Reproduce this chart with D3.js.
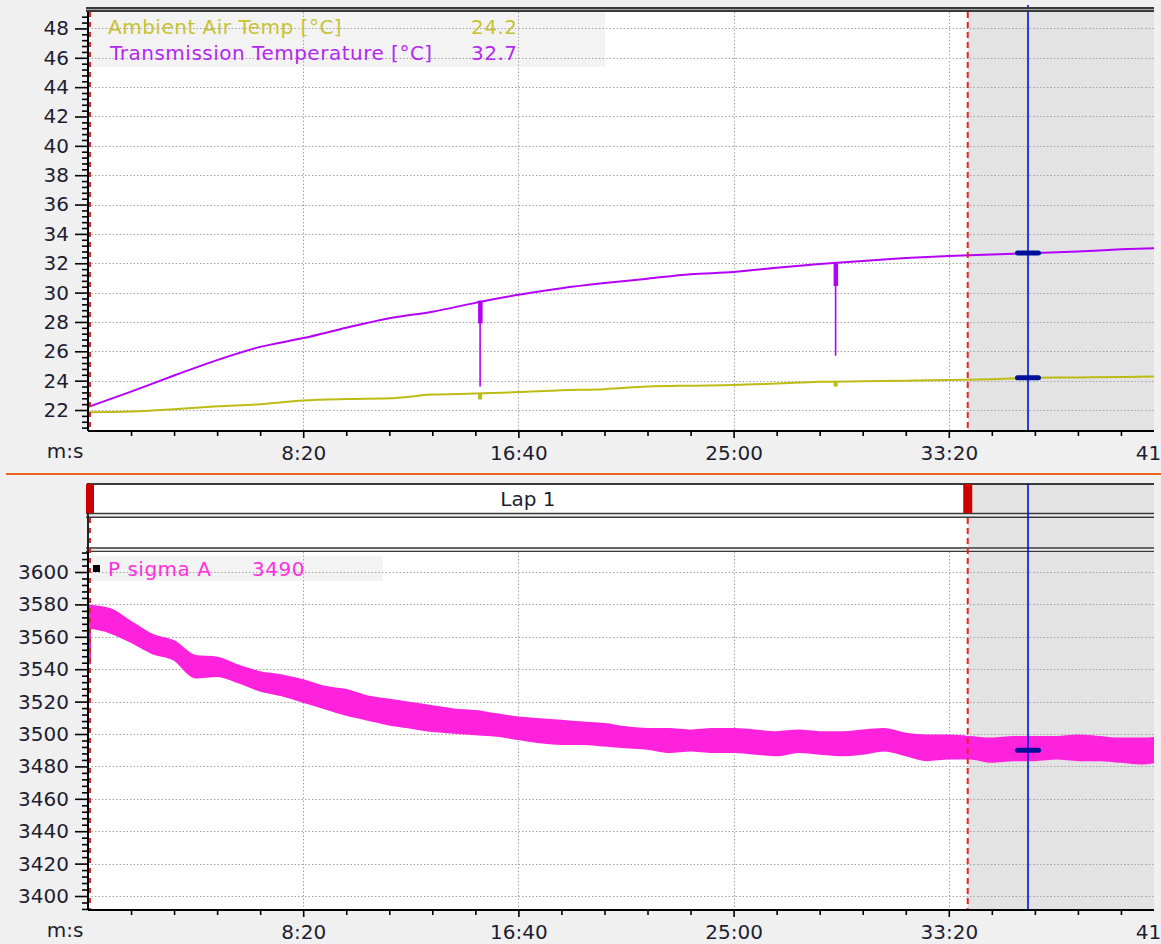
<!DOCTYPE html>
<html><head><meta charset="utf-8">
<script src="https://cdn.jsdelivr.net/npm/d3@7"></script>
<style>
html,body{margin:0;padding:0;background:#f0f0f0;overflow:hidden}
svg{display:block}
text{font-family:"DejaVu Sans",sans-serif}
</style></head><body><svg id="c" width="1161" height="944"></svg>
<script>
// ---------- data ----------
const tempTimes   = [0,100,200,300,400,500,600,700,800,900,1000,1100,1200,1300,1400,1500,1600,1700,1800,1900,2000,2100,2200,2300,2400,2500];
const ambientTemp = [21.85,21.9,22.05,22.25,22.4,22.65,22.75,22.8,23.05,23.12,23.22,23.35,23.42,23.6,23.66,23.7,23.8,23.92,23.96,24.0,24.05,24.1,24.2,24.22,24.25,24.3];
const transTemp   = [22.2,23.25,24.35,25.4,26.3,26.9,27.6,28.25,28.7,29.3,29.85,30.3,30.65,30.95,31.25,31.4,31.7,31.95,32.15,32.35,32.5,32.6,32.7,32.8,32.95,33.05];
const spikeTimes      = [911, 1737];
const transSpikeTop   = [29.45, 32.0];
const transSpikeThick = [27.9, 30.45];
const transSpikeMin   = [23.6, 25.7];
const ambientSpikeTop = [23.12, 23.95];
const ambientSpikeMin = [22.72, 23.6];

const psTimes = [0,50,100,150,200,250,300,350,400,450,500,550,600,650,700,750,800,850,900,950,1000,1050,1100,1150,1200,1250,1300,1350,1400,1450,1500,1550,1600,1650,1700,1750,1800,1850,1900,1950,2000,2050,2100,2150,2200,2250,2300,2350,2400,2450,2500];
const psUpper = [3579,3577,3569,3561,3557,3548,3547,3542,3538,3536,3533,3529,3527,3523,3521,3519,3517,3515,3514,3512,3510,3509,3508,3507,3506,3504,3503,3503,3502,3503,3503,3502,3501,3502,3501,3501,3502,3503,3500,3499,3499,3498,3497,3498,3498,3498,3499,3498,3497,3497,3498];
const psLower = [3566,3563,3557,3550,3546,3535,3536,3532,3527,3524,3520,3516,3512,3509,3506,3504,3502,3501,3500,3499,3497,3495,3494,3494,3493,3492,3491,3489,3490,3489,3489,3488,3487,3489,3488,3487,3488,3490,3487,3484,3485,3485,3483,3484,3484,3485,3484,3484,3483,3482,3484];
const psStartSpan = [3580, 3543];

const xTickSeconds = [500,1000,1500,2000,2500];
const xTickLabels  = ["8:20","16:40","25:00","33:20","41:40"];
const topYTicks    = [22,24,26,28,30,32,34,36,38,40,42,44,46,48];
const bottomYTicks = [3400,3420,3440,3460,3480,3500,3520,3540,3560,3580,3600];
const topLegendNames  = ["Ambient Air Temp [°C]","Transmission Temperature [°C]"];
const topLegendValues = ["24.2","32.7"];
const topCursorValues = [24.2, 32.7];
const bottomLegendName  = "P sigma A";
const bottomLegendValue = "3490";
const bottomCursorValue = 3490;
const lapLabel = "Lap 1";
const lapStart = 0, lapEnd = 2044, cursorTime = 2184;

// ---------- layout ----------
const svg = d3.select("#c");
const PL = 88, PR = 1154;
const TOP = {t:12, b:431};
const LAP = {t:485, b:513};
const BOX2 = {t:518, b:547};
const BOT = {t:552, b:910};
const COL = {amb:"#bcbc14", ambText:"#c8c232", trans:"#b400f8", transText:"#b428f0", ps:"#ff22dd", psText:"#ff30e0",
             grid:"#a4a4a4", axis:"#000", text:"#1e1e30", shade:"#e3e3e3", red:"#e02828", blue:"#0010e0", pill:"#00109a"};

const x = d3.scaleLinear().domain([0,2500]).range([88,1164]);
const yTop = d3.scaleLinear().domain([20.57,49.12]).range([TOP.b, TOP.t]);
const yBot = d3.scaleLinear().domain([3391.36,3612.35]).range([BOT.b, BOT.t]);

const defs = svg.append("defs");
defs.append("clipPath").attr("id","clipTop").append("rect").attr("x",PL).attr("y",TOP.t).attr("width",PR-PL).attr("height",TOP.b-TOP.t);
defs.append("clipPath").attr("id","clipBot").append("rect").attr("x",PL).attr("y",BOT.t).attr("width",PR-PL).attr("height",BOT.b-BOT.t);

// separator
svg.append("line").attr("x1",6).attr("x2",1161).attr("y1",474).attr("y2",474).attr("stroke","#e8641e").attr("stroke-width",2);

function panelBg(t,b,shadeFrom){
  svg.append("rect").attr("x",PL).attr("y",t).attr("width",PR-PL).attr("height",b-t).attr("fill","#fff");
  svg.append("rect").attr("x",shadeFrom).attr("y",t).attr("width",PR-shadeFrom).attr("height",b-t).attr("fill",COL.shade);
}
function doubleLine(y){
  svg.append("rect").attr("x",PL-2).attr("y",y-2.5).attr("width",PR-PL+2).attr("height",5).attr("fill","#3a3a3a");
  svg.append("rect").attr("x",PL-2).attr("y",y-0.5).attr("width",PR-PL+2).attr("height",1).attr("fill","#a8a8a8");
}
function grid(yScale, yTicks, t, b){
  const g = svg.append("g");
  g.selectAll("line.h").data(yTicks).join("line")
    .attr("x1",PL).attr("x2",PR).attr("y1",d=>Math.round(yScale(d))+0.5).attr("y2",d=>Math.round(yScale(d))+0.5)
    .attr("stroke",COL.grid).attr("stroke-dasharray","1.5,2");
  g.selectAll("line.v").data(xTickSeconds.filter(d=>x(d)<PR)).join("line")
    .attr("x1",d=>Math.round(x(d))+0.5).attr("x2",d=>Math.round(x(d))+0.5).attr("y1",t).attr("y2",b)
    .attr("stroke",COL.grid).attr("stroke-dasharray","1.5,2");
}

// ===== TOP PANEL =====
panelBg(TOP.t, TOP.b, x(lapEnd));
svg.append("rect").attr("x",90).attr("y",TOP.t).attr("width",515).attr("height",55).attr("fill","#f3f3f3");
grid(yTop, topYTicks, TOP.t, TOP.b);

const gTop = svg.append("g").attr("clip-path","url(#clipTop)");
const lineT = d3.line().x((d,i)=>x(tempTimes[i])).y(d=>yTop(d)).curve(d3.curveMonotoneX);
gTop.append("path").attr("d",lineT(ambientTemp)).attr("fill","none").attr("stroke",COL.amb).attr("stroke-width",2);
gTop.append("path").attr("d",lineT(transTemp)).attr("fill","none").attr("stroke",COL.trans).attr("stroke-width",2);
spikeTimes.forEach((t,i)=>{
  gTop.append("line").attr("x1",x(t)).attr("x2",x(t)).attr("y1",yTop(transSpikeTop[i])).attr("y2",yTop(transSpikeMin[i]))
    .attr("stroke",COL.trans).attr("stroke-width",1.6);
  gTop.append("rect").attr("x",x(t)-2).attr("y",yTop(transSpikeTop[i])).attr("width",4.5)
    .attr("height",yTop(transSpikeThick[i])-yTop(transSpikeTop[i])).attr("fill",COL.trans);
  gTop.append("rect").attr("x",x(t)-2).attr("y",yTop(ambientSpikeTop[i])).attr("width",4)
    .attr("height",yTop(ambientSpikeMin[i])-yTop(ambientSpikeTop[i])).attr("fill",COL.amb);
});

const legTop = svg.append("g");
topLegendNames.forEach((n,i)=>{
  const yy = 27 + i*26;
  const c = i===0 ? COL.ambText : COL.transText;
  legTop.append("text").attr("x",108 + i*2).attr("y",yy).attr("dy","0.36em").attr("font-size",20)
    .attr("letter-spacing",0.5).attr("fill",c).text(n);
  legTop.append("text").attr("x",471).attr("y",yy).attr("dy","0.36em").attr("font-size",20)
    .attr("letter-spacing",0.5).attr("fill",c).text(topLegendValues[i]);
});

svg.append("line").attr("x1",x(lapEnd)).attr("x2",x(lapEnd)).attr("y1",TOP.t).attr("y2",TOP.b)
  .attr("stroke",COL.red).attr("stroke-width",2).attr("stroke-dasharray","6,4");
svg.append("line").attr("x1",90).attr("x2",90).attr("y1",TOP.t).attr("y2",TOP.b)
  .attr("stroke",COL.red).attr("stroke-width",2).attr("stroke-dasharray","5,5");
svg.append("line").attr("x1",x(cursorTime)).attr("x2",x(cursorTime)).attr("y1",5).attr("y2",TOP.b)
  .attr("stroke",COL.blue).attr("stroke-width",1.6);
topCursorValues.forEach(v=>{
  svg.append("rect").attr("x",x(cursorTime)-13).attr("y",yTop(v)-2.5).attr("width",26).attr("height",5).attr("rx",2.5).attr("fill",COL.pill);
});
doubleLine(9.5);

function yAxis(scale, ticks, minors){
  const g = svg.append("g").attr("transform",`translate(${PL},0)`);
  g.call(d3.axisLeft(scale).tickValues(minors).tickSize(6).tickFormat("")).select(".domain").remove();
  const g2 = svg.append("g").attr("transform",`translate(${PL},0)`);
  g2.call(d3.axisLeft(scale).tickValues(ticks).tickSize(13).tickPadding(6).tickFormat(d3.format("d")));
  g2.select(".domain").remove();
  [g,g2].forEach(gg=>gg.selectAll("line").attr("stroke",COL.axis).attr("stroke-width",1.6));
  g2.selectAll("text").attr("font-size",20).attr("fill",COL.text).attr("font-family","DejaVu Sans");
  const r = scale.range();
  svg.append("line").attr("x1",PL).attr("x2",PL).attr("y1",r[1]).attr("y2",r[0]).attr("stroke",COL.axis).attr("stroke-width",2);
}
function xAxis(yPos){
  const minors = tempTimes.filter(d=>d>0 && !xTickSeconds.includes(d) && x(d)<PR);
  const g = svg.append("g").attr("transform",`translate(0,${yPos})`);
  g.call(d3.axisBottom(x).tickValues(minors).tickSize(5).tickFormat("")).select(".domain").remove();
  const g2 = svg.append("g").attr("transform",`translate(0,${yPos})`);
  g2.call(d3.axisBottom(x).tickValues(xTickSeconds).tickSize(7).tickFormat((d,i)=>xTickLabels[i]));
  g2.select(".domain").remove();
  g2.selectAll(".tick").filter(d=>x(d)>PR).select("line").remove();
  [g,g2].forEach(gg=>gg.selectAll("line").attr("stroke",COL.axis).attr("stroke-width",1.6));
  g2.selectAll("text").attr("y",22).attr("dy","0.36em").attr("font-size",20).attr("fill",COL.text).attr("font-family","DejaVu Sans");
  svg.append("line").attr("x1",PL).attr("x2",PR).attr("y1",yPos).attr("y2",yPos).attr("stroke",COL.axis).attr("stroke-width",2);
  svg.append("text").attr("x",65).attr("y",yPos+20).attr("dy","0.36em").attr("text-anchor","middle")
    .attr("font-size",20).attr("fill",COL.text).text("m:s");
}
const topMinors = d3.range(Math.ceil(20.57/0.4)*0.4, 49.12, 0.4).map(d=>+d.toFixed(1)).filter(d=>Math.abs(d/2-Math.round(d/2))>1e-6);
yAxis(yTop, topYTicks, topMinors);
xAxis(TOP.b);

// ===== LAP BOXES =====
svg.append("rect").attr("x",PL).attr("y",LAP.t).attr("width",PR-PL).attr("height",LAP.b-LAP.t).attr("fill","#fff");
svg.append("rect").attr("x",x(lapEnd)+4).attr("y",LAP.t).attr("width",PR-x(lapEnd)-4).attr("height",LAP.b-LAP.t).attr("fill",COL.shade);
panelBg(BOX2.t, BOX2.b, x(lapEnd));
svg.append("line").attr("x1",PL).attr("x2",PR).attr("y1",484).attr("y2",484).attr("stroke","#3a3a3a").attr("stroke-width",2);
[513.5,517.2,548,551.6].forEach(yy=>{
  svg.append("line").attr("x1",PL-2).attr("x2",PR).attr("y1",yy).attr("y2",yy).attr("stroke","#3a3a3a").attr("stroke-width",1.6);
});
svg.append("line").attr("x1",PL).attr("x2",PL).attr("y1",483).attr("y2",552).attr("stroke","#222").attr("stroke-width",2);
svg.append("rect").attr("x",86).attr("y",LAP.t-1).attr("width",8).attr("height",LAP.b-LAP.t+1).attr("fill","#cc0000");
svg.append("rect").attr("x",x(lapEnd)-4.5).attr("y",LAP.t-1).attr("width",9).attr("height",LAP.b-LAP.t+1).attr("fill","#cc0000");
svg.append("text").attr("x",(x(lapStart)+x(lapEnd))/2).attr("y",499).attr("dy","0.36em").attr("text-anchor","middle")
  .attr("font-size",20).attr("fill",COL.text).text(lapLabel);

// ===== BOTTOM PANEL =====
panelBg(BOT.t, BOT.b, x(lapEnd));
svg.append("rect").attr("x",90).attr("y",556).attr("width",293).attr("height",25).attr("fill","#f3f3f3");
grid(yBot, bottomYTicks, BOT.t, BOT.b);

const gBot = svg.append("g").attr("clip-path","url(#clipBot)");
const area = d3.area().x((d,i)=>x(psTimes[i])).y0((d,i)=>yBot(psLower[i])).y1(d=>yBot(d)).curve(d3.curveMonotoneX);
gBot.append("path").attr("d",area(psUpper)).attr("fill",COL.ps).attr("stroke",COL.ps).attr("stroke-width",2.5).attr("stroke-linejoin","round");
gBot.append("line").attr("x1",x(0)+2).attr("x2",x(0)+2).attr("y1",yBot(psStartSpan[0])).attr("y2",yBot(psStartSpan[1]))
  .attr("stroke",COL.ps).attr("stroke-width",2);

svg.append("rect").attr("x",93).attr("y",565).attr("width",7).attr("height",7).attr("fill","#000");
svg.append("text").attr("x",108).attr("y",569).attr("dy","0.36em").attr("font-size",20).attr("letter-spacing",0.5).attr("fill",COL.psText).text(bottomLegendName);
svg.append("text").attr("x",252).attr("y",569).attr("dy","0.36em").attr("font-size",20).attr("letter-spacing",0.5).attr("fill",COL.psText).text(bottomLegendValue);

svg.append("line").attr("x1",x(lapEnd)).attr("x2",x(lapEnd)).attr("y1",BOX2.t).attr("y2",BOT.b)
  .attr("stroke",COL.red).attr("stroke-width",2).attr("stroke-dasharray","6,4");
svg.append("line").attr("x1",90).attr("x2",90).attr("y1",BOX2.t).attr("y2",BOT.b)
  .attr("stroke",COL.red).attr("stroke-width",2).attr("stroke-dasharray","5,5");
svg.append("line").attr("x1",x(cursorTime)).attr("x2",x(cursorTime)).attr("y1",484).attr("y2",BOT.b)
  .attr("stroke",COL.blue).attr("stroke-width",1.6);
svg.append("rect").attr("x",x(cursorTime)-13).attr("y",yBot(bottomCursorValue)-2.5).attr("width",26).attr("height",5).attr("rx",2.5).attr("fill",COL.pill);

const botMinors = d3.range(3392, 3612.35, 4).filter(d=>d%20!==0);
yAxis(yBot, bottomYTicks, botMinors);
xAxis(BOT.b);
</script></body></html>
